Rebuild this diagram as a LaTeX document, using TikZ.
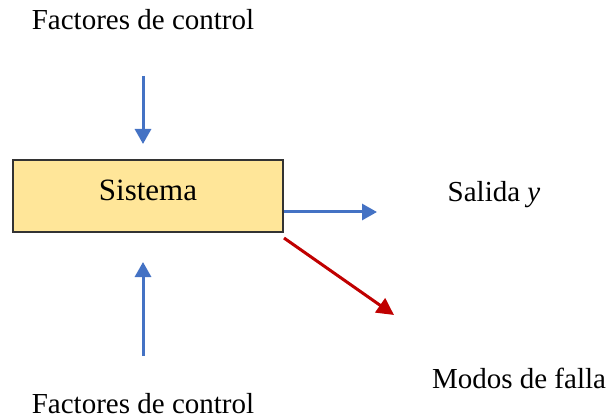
\documentclass[tikz,border=0pt]{standalone}
\usepackage{fontspec}
\setmainfont{Liberation Serif}
\usepackage{tikz}
\usetikzlibrary{arrows.meta}
\tikzstyle{canvas} = [x = 1pt, y = -1pt]
\definecolor{flowBlue}{RGB}{68,114,196}
\definecolor{failRed}{RGB}{192,0,0}
\definecolor{boxFill}{RGB}{255,230,153}
\tikzstyle{systemBox} = [draw=black!80, fill=boxFill, line width=1.2pt, minimum width=270pt, minimum height=72pt, text height=22pt, text depth=12pt, font=\fontsize{31}{36}\selectfont]
\tikzstyle{labelText} = [font=\fontsize{29}{34}\selectfont, inner sep=0pt]
\tikzstyle{flowArrow} = [color=flowBlue, line width=3pt, -{Triangle[length=15pt, width=16pt]}]
\tikzstyle{failArrow} = [color=failRed, line width=3pt, -{Triangle[length=17pt, width=17pt]}]

\begin{document}
\begin{tikzpicture}[canvas]
  \useasboundingbox (0,0) rectangle (609,419);
  % system box and texts
  \node [systemBox] (sistema) at (148,196) {Sistema};
  \node [labelText] (topFactors) at (143,20) {Factores de control};
  \node [labelText] (bottomFactors) at (143,404) {Factores de control};
  \node [labelText] (salida) at (494,195) {Salida \textit{y}};
  \node [labelText] (modos) at (519,378) {Modos de falla};
  % arrow ends
  \coordinate (topStart) at (143,76);
  \coordinate (topEnd) at (143,144);
  \coordinate (bottomStart) at (143,356);
  \coordinate (bottomEnd) at (143,262);
  \coordinate (outEnd) at (377,212);
  \coordinate (failStart) at (284,238);
  \coordinate (failEnd) at (394,315);
  % arrows
  \draw [flowArrow] (topStart) -- (topEnd);
  \draw [flowArrow] (bottomStart) -- (bottomEnd);
  \draw [flowArrow] (sistema.east |- outEnd) -- (outEnd);
  \draw [failArrow] (failStart) -- (failEnd);
\end{tikzpicture}
\end{document}
